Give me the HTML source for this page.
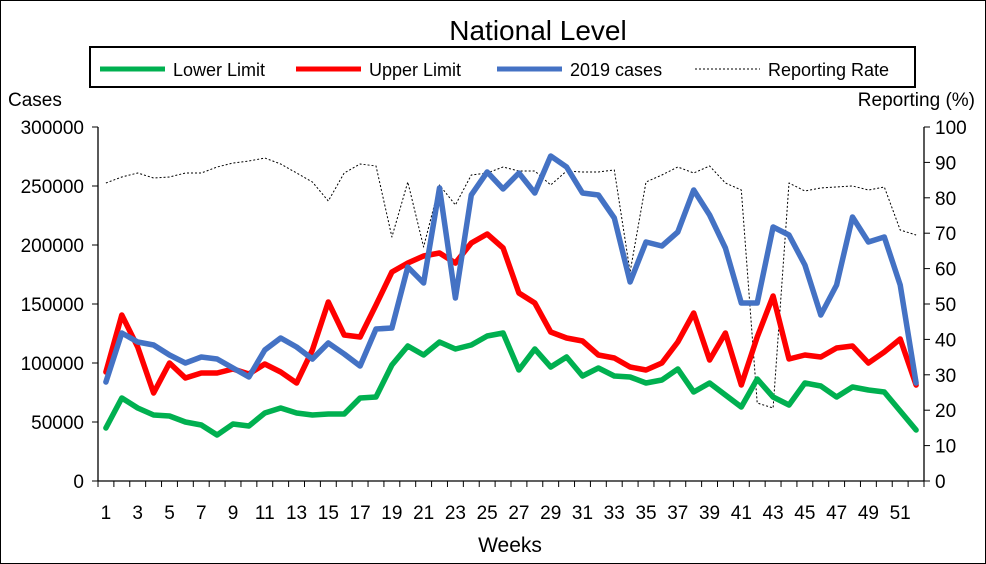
<!DOCTYPE html>
<html><head><meta charset="utf-8"><style>
body{margin:0;background:#fff;}
svg{display:block;font-family:"Liberation Sans",sans-serif;}
</style></head><body>
<svg width="986" height="564" xmlns="http://www.w3.org/2000/svg">
<rect x="0.5" y="0.5" width="985" height="563" fill="#fff" stroke="#000"/>
<text x="538" y="40" font-size="28" text-anchor="middle">National Level</text>
<rect x="90" y="47" width="825" height="40" fill="#fff" stroke="#000" stroke-width="2"/>
<line x1="100" y1="69" x2="165" y2="69" stroke="#00b050" stroke-width="5"/>
<text x="173" y="76" font-size="18">Lower Limit</text>
<line x1="296" y1="69" x2="361" y2="69" stroke="#ff0000" stroke-width="5"/>
<text x="369" y="76" font-size="18">Upper Limit</text>
<line x1="497" y1="69" x2="562" y2="69" stroke="#4472c4" stroke-width="5"/>
<text x="570" y="76" font-size="18">2019 cases</text>
<line x1="695" y1="69" x2="760" y2="69" stroke="#000" stroke-width="1" stroke-dasharray="2,2"/>
<text x="768" y="76" font-size="18">Reporting Rate</text>
<text x="8" y="106" font-size="19">Cases</text>
<text x="975" y="106" font-size="19" text-anchor="end">Reporting (%)</text>
<g stroke="#000" stroke-width="1.3">
<line x1="98" y1="127" x2="98" y2="481"/>
<line x1="924" y1="127" x2="924" y2="481"/>
<line x1="98" y1="481" x2="924" y2="481"/>
</g>
<g id="dyn"></g>
<text x="510" y="552" font-size="21" text-anchor="middle">Weeks</text>
<script>
const ns="http://www.w3.org/2000/svg";
const g=document.getElementById('dyn');
function el(t,a,txt){const e=document.createElementNS(ns,t);for(const k in a)e.setAttribute(k,a[k]);if(txt!==undefined)e.textContent=txt;g.appendChild(e);return e;}
for(let i=0;i<=6;i++){const y=481-i*59;
 el('line',{x1:92,y1:y,x2:98,y2:y,stroke:'#000'});
 el('text',{x:84,y:y+7,'font-size':19,'text-anchor':'end'},String(i*50000));}
for(let i=0;i<=10;i++){const y=481-i*35.4;
 el('line',{x1:924,y1:y,x2:930,y2:y,stroke:'#000'});
 el('text',{x:935,y:y+7,'font-size':19},String(i*10));}
const st=826/52;
for(let i=0;i<=52;i++){const x=98+i*st;el('line',{x1:x,y1:481,x2:x,y2:487,stroke:'#000'});}
for(let w=1;w<=52;w+=2){el('text',{x:98+(w-0.5)*st,y:519,'font-size':19,'text-anchor':'middle'},String(w));}
const G=[428,398,408,415,416,422,425,435,424,426,413,408,413,415,414,414,398,397,365,346,355,342,349,345,336,333,370,349,367,357,376,368,376,377,383,380,369,392,383,395,407,379,397,405,383,386,397,387,390,392,411,430];
const R=[372,315,347,393,363,378,373,373,369,374,364,372,383,350,302,335,337,305,272,263,256,253,263,243,234,248,293,303,332,338,341,355,358,367,370,363,342,313,360,333,385,337,296,359,355,357,348,346,363,352,339,385];
const B=[382,333,342,345,355,363,357,359,368,377,350,338,347,359,343,354,366,329,328,267,283,188,298,195,172,189,173,193,156,167,193,195,218,282,242,246,232,190,215,248,303,303,227,235,265,315,285,217,242,237,285,383];
const D=[183,177,173,178,177,173,173,167,163,161,158,164,173,182,201,173,164,166,237,182,247,185,205,175,173,167,171,171,185,171,172,172,170,272,182,175,167,173,166,183,190,403,408,183,191,188,187,186,190,187,230,235];
function pl(a,c,w,d){const p=a.map((y,i)=>(98+(i+0.5)*st).toFixed(1)+','+y).join(' ');
 const o={points:p,fill:'none',stroke:c,'stroke-width':w,'stroke-linejoin':'round','stroke-linecap':'round'};if(d){o['stroke-dasharray']=d;o['stroke-linecap']='butt';}el('polyline',o);}
pl(D,'#000',1,'2,2');pl(G,'#00b050',5.5);pl(R,'#ff0000',5.5);pl(B,'#4472c4',5.5);
</script>
</svg>
</body></html>
